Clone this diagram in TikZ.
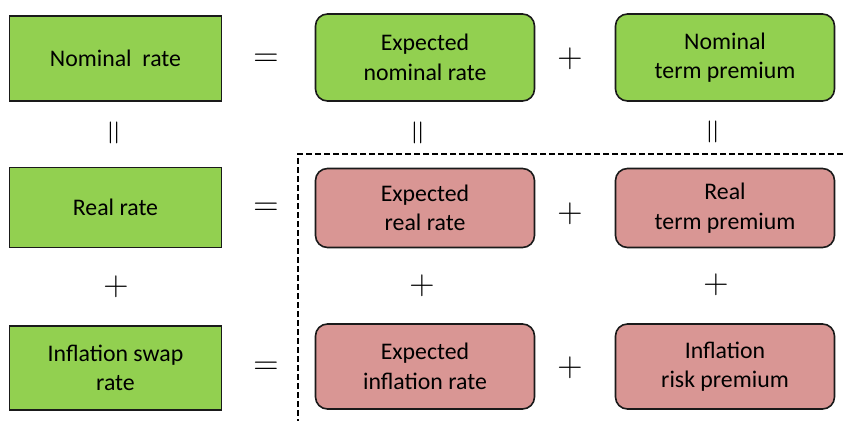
\RequirePackage{fix-cm}
\documentclass[tikz,border=0pt]{standalone}
\usepackage{fontspec}
\setmainfont{Carlito}
\definecolor{boxgreen}{HTML}{92D050}
\definecolor{boxpink}{HTML}{D99694}
\definecolor{edge}{HTML}{1A1A1A}
\tikzset{
  base/.style={draw=edge, line width=1.6pt, align=center, inner sep=0pt, text=black},
  sqbox/.style={base, fill=boxgreen, rectangle, minimum width=212pt},
  gbox/.style={base, fill=boxgreen, rounded corners=12pt, minimum width=219pt},
  pbox/.style={base, fill=boxpink, rounded corners=12pt, minimum width=219pt},
  op/.style={inner sep=0pt, font=\fontsize{35}{35}\selectfont},
  eqop/.style={op, text height=12.8pt, text depth=-4.65pt},
  sep/.style={draw=black, line width=1.5pt, dash pattern=on 6pt off 3pt}
}
\begin{document}
\begin{tikzpicture}[x=1pt, y=-1pt, font=\fontsize{23.8}{29.5}\selectfont]
\useasboundingbox (0,0) rectangle (843,421);
% left column
\node[sqbox, minimum height=85pt] (nom) at (115.5,58.5) {\raisebox{-1pt}{Nominal\ \ rate}};
\node[sqbox, minimum height=80pt] (real) at (115.5,207.5) {\raisebox{-1pt}{Real rate}};
\node[sqbox, minimum height=84pt] (swap) at (115.5,368) {Inflation swap\\rate};
% middle column
\node[gbox, minimum height=87pt] (en) at (425,57.5) {Expected\\nominal rate};
\node[pbox, minimum height=79pt] (er) at (425,208) {Expected\\real rate};
\node[pbox, minimum height=85pt] (ei) at (425,366.5) {Expected\\inflation rate};
% right column
\node[gbox, minimum height=87pt] (ntp) at (725,57.5) {Nominal\\term premium};
\node[pbox, minimum height=79pt] (rtp) at (725,208) {Real\\term premium};
\node[pbox, minimum height=85pt] (irp) at (725,366.5) {Inflation\\risk premium};
% equals signs
\node[eqop] (eq1) at (266,60) {$=$};
\node[eqop] (eq2) at (266,209) {$=$};
\node[eqop] (eq3) at (266,368) {$=$};
% plus between middle and right
\node[op] (p1) at (570,59) {$+$};
\node[op] (p2) at (570,214) {$+$};
\node[op] (p3) at (570,368) {$+$};
% vertical equals
\node[eqop, rotate=90] (v1) at (116,133) {$=$};
\node[eqop, rotate=90] (v2) at (420,133) {$=$};
\node[eqop, rotate=90] (v3) at (715,132) {$=$};
% vertical plus
\node[op] (q1) at (116,287) {$+$};
\node[op] (q2) at (422,286) {$+$};
\node[op] (q3) at (716,285) {$+$};
% dashed separator
\coordinate (dR) at (843,154);
\coordinate (dC) at (298,154);
\coordinate (dB) at (298,421);
\draw[sep] (dR) -- (dC) -- (dB);
\end{tikzpicture}
\end{document}
